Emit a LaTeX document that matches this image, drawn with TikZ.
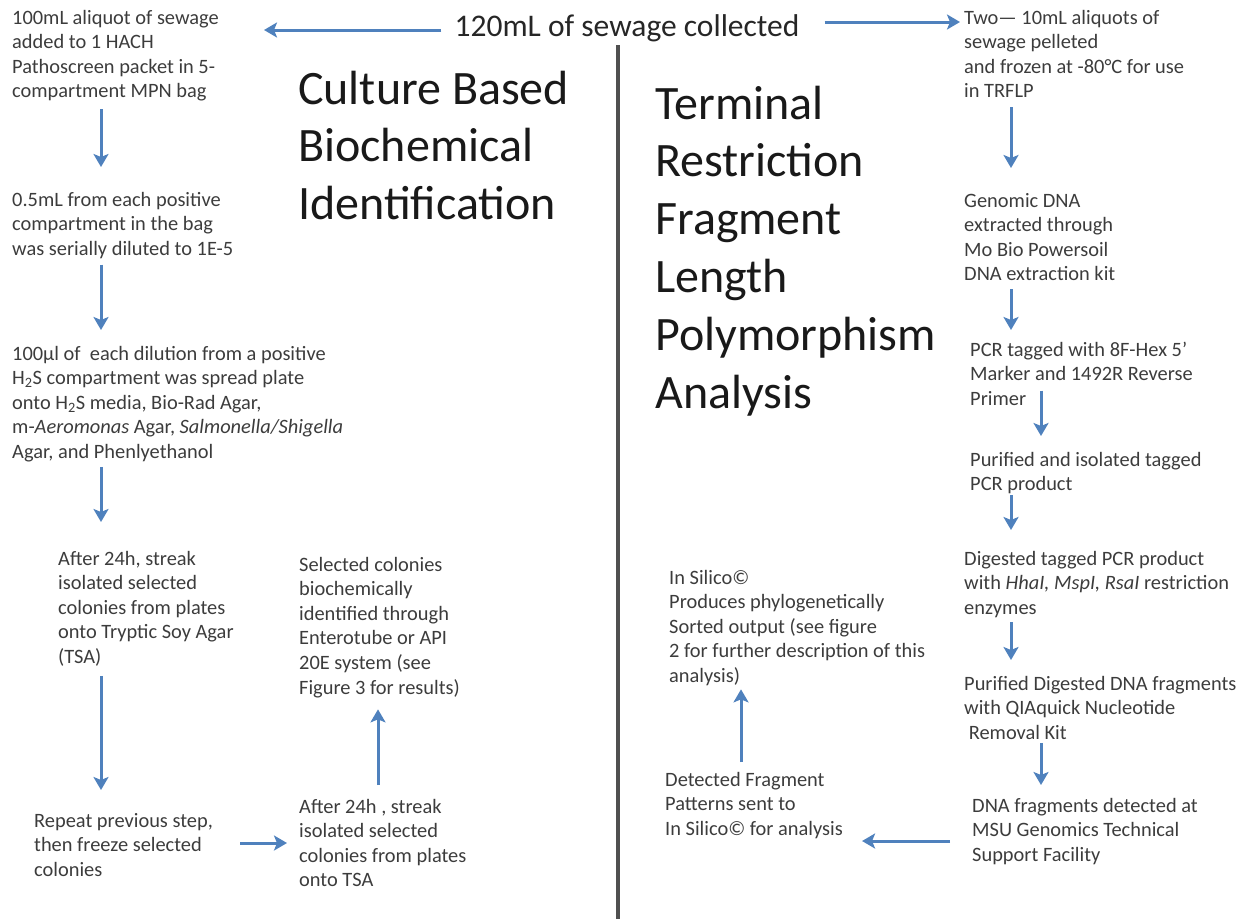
\documentclass[tikz,border=0pt]{standalone}
\usepackage{fontspec}
\setmainfont{Carlito}
\usetikzlibrary{arrows.meta}
\definecolor{arrblue}{HTML}{4F81BD}
\definecolor{txtgray}{HTML}{3C3C3C}
\definecolor{divgray}{HTML}{505050}
\tikzset{
  txt/.style={anchor=north west, inner sep=0pt, align=left, text=txtgray,
    font=\fontsize{20.4}{24.6}\selectfont,
    execute at begin node=\strut, execute at end node=\strut},
  ttl/.style={anchor=north west, inner sep=0pt, align=left, text=black!90,
    font=\fontsize{48}{57.8}\selectfont,
    execute at begin node=\strut},
  arr/.style={draw=arrblue, line width=3pt,
    -{Stealth[length=13pt,width=15pt,inset=3pt]}},
}
\begin{document}
\begin{tikzpicture}[x=1pt,y=-1pt]
\useasboundingbox (0,0) rectangle (1249,919);
\clip (0,0) rectangle (1249,919);
% helper coordinates
\coordinate (xl) at (101,0);
\coordinate (xm) at (378,0);
\coordinate (xr) at (1011,0);
\coordinate (xr2) at (1041,0);
\coordinate (xs) at (741,0);
\coordinate (ytopl) at (0,30);
\coordinate (ytopr) at (0,22);
\coordinate (yb5) at (0,843);
\coordinate (yr7) at (0,841);
% divider
\draw[divgray, line width=4pt] (618,45) -- (618,919);
% top
\node[anchor=base, inner sep=0pt, text=black!85, font=\fontsize{31.5}{36}\selectfont] (top) at (627,36) {120mL of sewage collected};
% titles
\node[ttl] (tl) at (298,70.5) {Culture Based\\Biochemical\\Identification};
\node[ttl] (tr) at (655,85.5) {Terminal\\Restriction\\Fragment\\Length\\Polymorphism\\Analysis};
% left column
\node[txt] (b1) at (12,9.8) {100mL aliquot of sewage\\added to 1 HACH\\Pathoscreen packet in 5-\\compartment MPN bag};
\node[txt] (b2) at (12,191.8) {0.5mL from each positive\\compartment in the bag\\was serially diluted to 1E-5};
\node[txt] (b3) at (12,345.8) {100µl of\ \ each dilution from a positive\\H\textsubscript{2}S compartment was spread plate\\onto H\textsubscript{2}S media, Bio-Rad Agar,\\m-\textit{Aeromonas} Agar, \textit{Salmonella/Shigella}\\Agar, and Phenlyethanol};
\node[txt] (b4) at (58,550.8) {After 24h, streak\\isolated selected\\colonies from plates\\onto Tryptic Soy Agar\\(TSA)};
\node[txt] (b5) at (34,812.8) {Repeat previous step,\\then freeze selected\\colonies};
\node[txt] (b6) at (299,798.8) {After 24h , streak\\isolated selected\\colonies from plates\\onto TSA};
\node[txt] (b7) at (299,556.8) {Selected colonies\\biochemically\\identified through\\Enterotube or API\\20E system (see\\Figure 3 for results)};
% right column
\node[txt] (r1) at (964,9.8) {Two— 10mL aliquots of\\sewage pelleted\\and frozen at -80°C for use\\in TRFLP};
\node[txt] (r2) at (964,192.8) {Genomic DNA\\extracted through\\Mo Bio Powersoil\\DNA extraction kit};
\node[txt] (r3) at (970,341.8) {PCR tagged with 8F-Hex 5’\\Marker and 1492R Reverse\\Primer};
\node[txt] (r4) at (970,451.8) {Purified and isolated tagged\\PCR product};
\node[txt] (r5) at (964,550.8) {Digested tagged PCR product\\with \textit{HhaI, MspI, RsaI} restriction\\enzymes};
\node[txt] (r6) at (964,675.8) {Purified Digested DNA fragments\\with QIAquick Nucleotide\\\ Removal Kit};
\node[txt] (r7) at (972,797.8) {DNA fragments detected at\\MSU Genomics Technical\\Support Facility};
\node[txt] (r8) at (665,771.8) {Detected Fragment\\Patterns sent to\\In Silico© for analysis};
\node[txt] (r9) at (669,569.8) {In Silico©\\Produces phylogenetically\\Sorted output (see figure\\2 for further description of this\\analysis)};
% arrows top
\draw[arr, shorten <=13pt, shorten >=45pt] (top.west |- ytopl) -- (b1.east |- ytopl);
\draw[arr, shorten <=25pt, shorten >=4pt] (top.east |- ytopr) -- (r1.west |- ytopr);
% left arrows
\draw[arr, shorten <=3.6pt, shorten >=24.8pt] (b1.south -| xl) -- (b2.north -| xl);
\draw[arr, shorten <=1.6pt, shorten >=15.8pt] (b2.south -| xl) -- (b3.north -| xl);
\draw[arr, shorten <=0.6pt, shorten >=28.8pt] (b3.south -| xl) -- (b4.north -| xl);
\draw[arr, shorten <=4.6pt, shorten >=22.8pt] (b4.south -| xl) -- (b5.north -| xl);
\draw[arr, shorten <=27pt, shorten >=12pt] (b5.east |- yb5) -- (b6.west |- yb5);
\draw[arr, shorten <=13.8pt, shorten >=7.6pt] (b6.north -| xm) -- (b7.south -| xm);
% right arrows
\draw[arr, shorten <=1.8pt, shorten >=24.8pt] (r1.south -| xr) -- (r2.north -| xr);
\draw[arr, shorten <=0.8pt, shorten >=11.8pt] (r2.south -| xr) -- (r3.north -| xr);
\draw[arr, shorten <=-22.6pt, shorten >=15.8pt] (r3.south -| xr2) -- (r4.north -| xr2);
\draw[arr, shorten <=-3pt, shorten >=20.8pt] (r4.south -| xr) -- (r5.north -| xr);
\draw[arr, shorten <=0.4pt, shorten >=15.8pt] (r5.south -| xr) -- (r6.north -| xr);
\draw[arr, shorten <=-4pt, shorten >=12.8pt] (r6.south -| xr2) -- (r7.north -| xr2);
\draw[arr, shorten <=22pt, shorten >=19pt] (r7.west |- yr7) -- (r8.east |- yr7);
\draw[arr, shorten <=9.8pt, shorten >=-0.8pt] (r8.north -| xs) -- (r9.south -| xs);
\end{tikzpicture}
\end{document}
